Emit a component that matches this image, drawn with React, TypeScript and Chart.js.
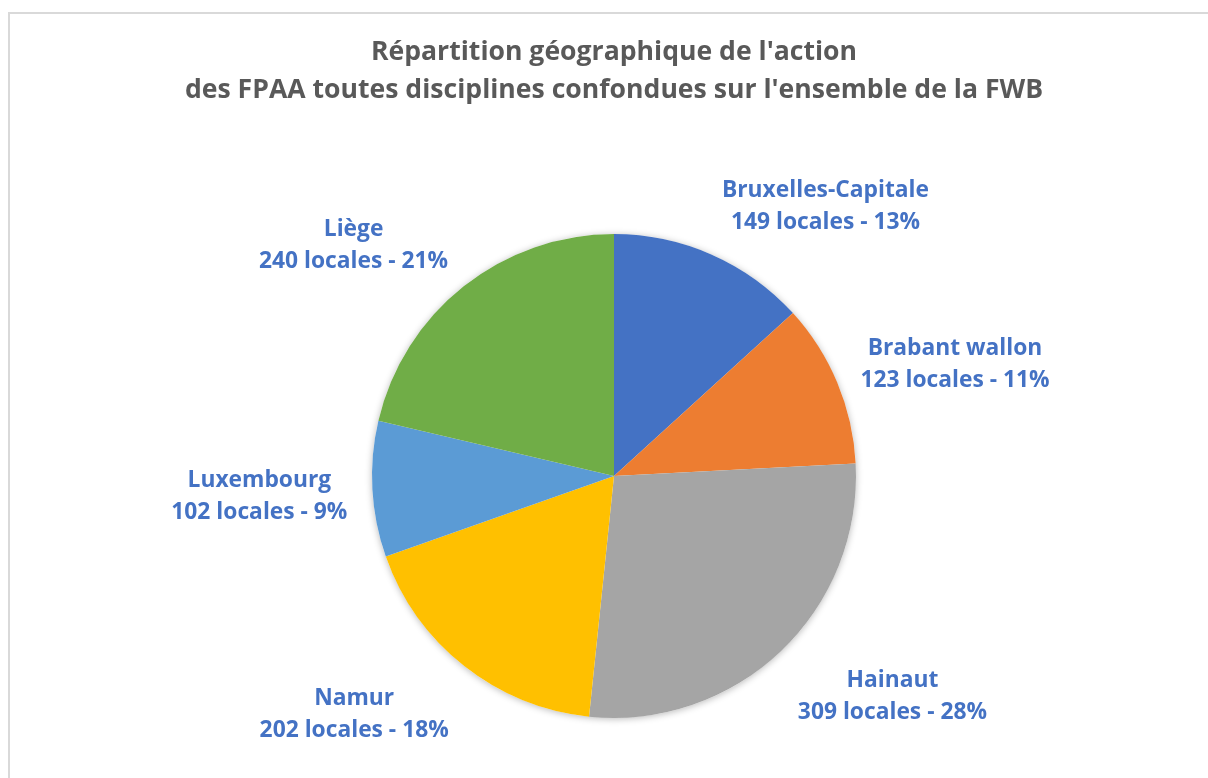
import React, { useEffect, useRef } from "react";
import { Chart, registerables } from "chart.js";

Chart.register(...registerables);

const regions = ["Bruxelles-Capitale", "Brabant wallon", "Hainaut", "Namur", "Luxembourg", "Liège"];
const locales = [149, 123, 309, 202, 102, 240];
const percentLabels = ["13%", "11%", "28%", "18%", "9%", "21%"];
const sliceColors = ["#4472C4", "#ED7D31", "#A5A5A5", "#FFC000", "#5B9BD5", "#70AD47"];
const titleLines = [
  "Répartition géographique de l'action",
  "des FPAA toutes disciplines confondues sur l'ensemble de la FWB",
];

const FONT = "'Open Sans', Lato, sans-serif";

const customPlugin = {
  id: "customPie",
  beforeDatasetsDraw(chart: any) {
    const ctx = chart.ctx;
    const arc = chart.getDatasetMeta(0).data[0];
    if (!arc) return;
    const { x, y, outerRadius } = arc.getProps(["x", "y", "outerRadius"], true);
    ctx.save();
    ctx.shadowColor = "rgba(0,0,0,0.28)";
    ctx.shadowBlur = 7;
    ctx.shadowOffsetX = 0;
    ctx.shadowOffsetY = 1;
    ctx.fillStyle = "#ffffff";
    ctx.beginPath();
    ctx.arc(x, y, outerRadius, 0, Math.PI * 2);
    ctx.fill();
    ctx.restore();
  },
  afterDatasetsDraw(chart: any) {
    const ctx = chart.ctx;
    const meta = chart.getDatasetMeta(0);
    const first = meta.data[0];
    if (!first) return;
    const center = first.getProps(["x", "y"], true);

    ctx.save();
    ctx.fillStyle = "#595959";
    ctx.font = `bold 26.6px ${FONT}`;
    ctx.textAlign = "center";
    ctx.textBaseline = "middle";
    ctx.fillText(titleLines[0], center.x, 52);
    ctx.fillText(titleLines[1], center.x, 90);

    const lineH = 32;
    const gap = 25;
    ctx.font = `bold 22.8px ${FONT}`;
    ctx.fillStyle = "#4472C4";
    meta.data.forEach((el: any, i: number) => {
      const { x, y, startAngle, endAngle, outerRadius } = el.getProps(
        ["x", "y", "startAngle", "endAngle", "outerRadius"],
        true
      );
      const mid = (startAngle + endAngle) / 2;
      const dx = Math.cos(mid);
      const dy = Math.sin(mid);
      const ax = x + (outerRadius + gap) * dx;
      const ay = y + (outerRadius + gap) * dy;
      const lines = [regions[i], `${locales[i]} locales - ${percentLabels[i]}`];
      const w = Math.max(...lines.map((l) => ctx.measureText(l).width));
      const h = lineH * lines.length;
      const left = dx >= 0 ? ax : ax - w;
      const cy = ay + (dy * h) / 2 + 4;
      const tx = left + w / 2;
      ctx.fillText(lines[0], tx, cy - lineH / 2);
      ctx.fillText(lines[1], tx, cy + lineH / 2);
    });
    ctx.restore();
  },
};

export default function App() {
  const canvasRef = useRef<HTMLCanvasElement | null>(null);

  useEffect(() => {
    document.body.style.overflow = "hidden";
    const canvas = canvasRef.current;
    if (!canvas) return;
    const chart = new Chart(canvas, {
      type: "pie",
      data: {
        labels: regions,
        datasets: [
          {
            data: locales,
            backgroundColor: sliceColors,
            borderWidth: 0,
          },
        ],
      },
      options: {
        responsive: false,
        animation: false,
        layout: {
          padding: { top: 234, bottom: 60, left: 314, right: 294 },
        },
        plugins: {
          legend: { display: false },
          title: { display: false },
          tooltip: { enabled: false },
        },
      },
      plugins: [customPlugin],
    });
    return () => chart.destroy();
  }, []);

  return (
    <div style={{ position: "fixed", left: 0, top: 0, width: 1208, height: 778, overflow: "hidden", background: "#ffffff" }}>
      <div
        style={{
          position: "absolute",
          left: 8,
          top: 12,
          width: 1212,
          height: 800,
          border: "2px solid #d9d9d9",
          boxSizing: "border-box",
        }}
      />
      <canvas
        ref={canvasRef}
        width={1208}
        height={778}
        style={{ position: "absolute", left: 0, top: 0, width: 1208, height: 778 }}
      />
    </div>
  );
}
